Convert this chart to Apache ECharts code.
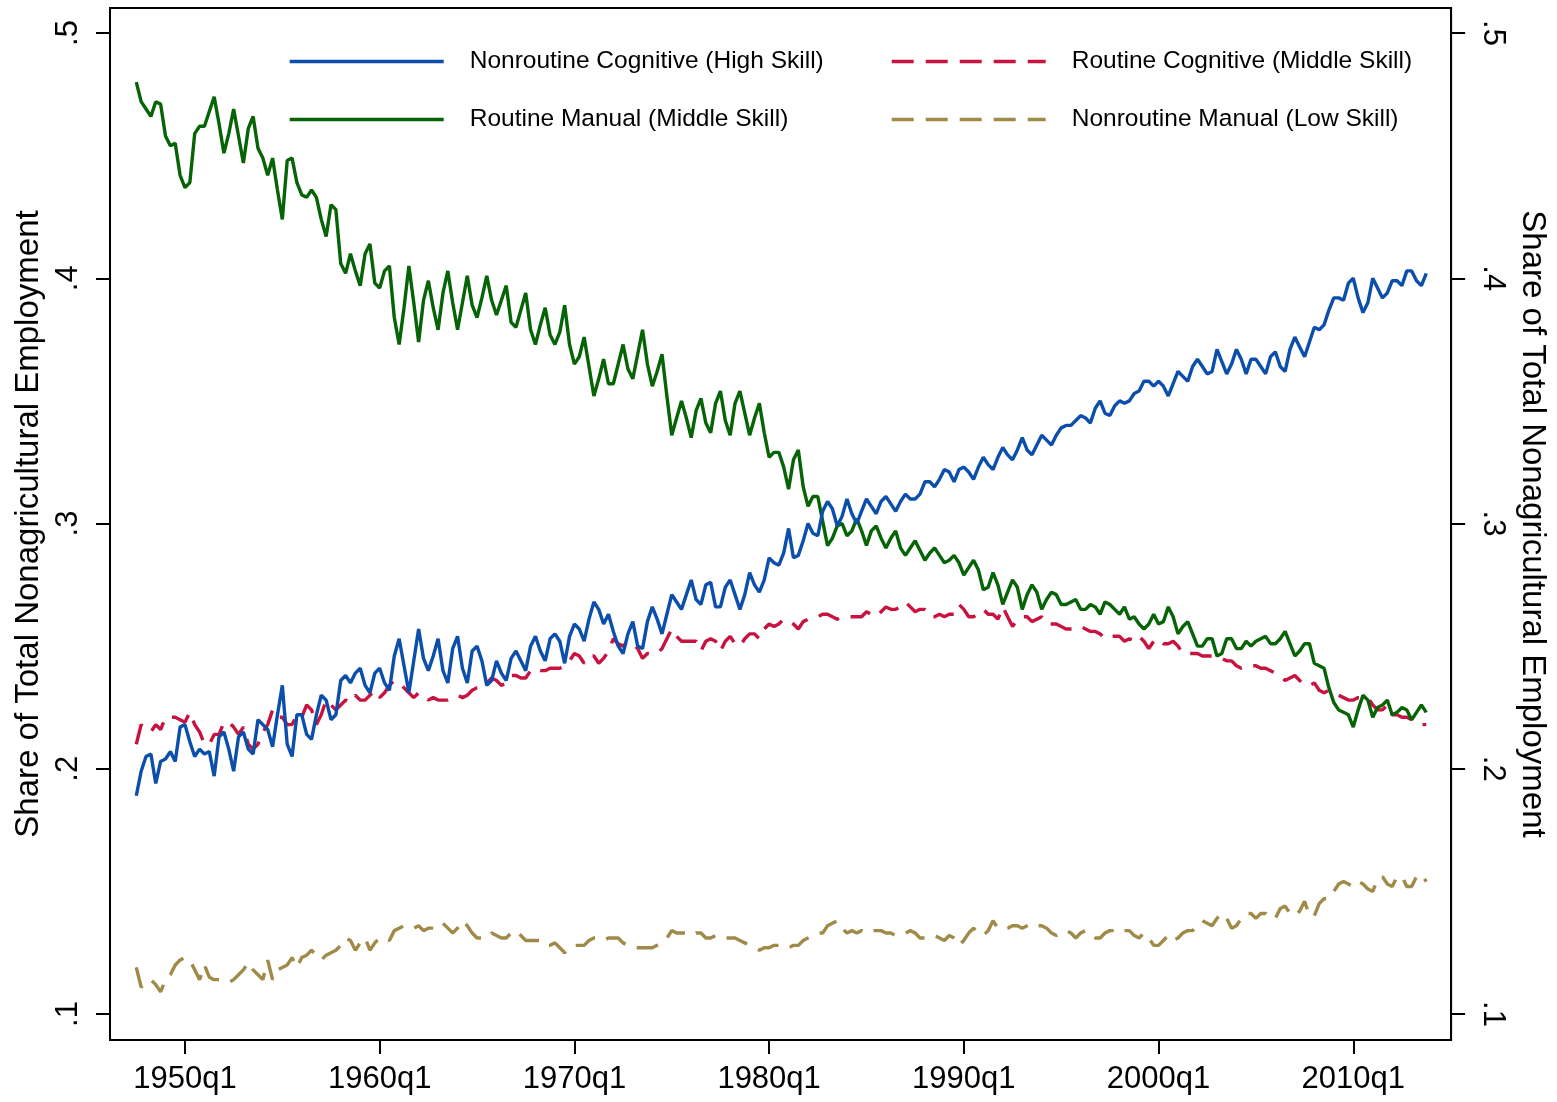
<!DOCTYPE html>
<html>
<head>
<meta charset="utf-8">
<title>Occupational employment shares</title>
<script src="https://cdn.jsdelivr.net/npm/echarts@6.0.0/dist/echarts.min.js"></script>
<style>
  html, body { margin: 0; padding: 0; background: #fff; }
  #chart { width: 1557px; height: 1102px; }
</style>
</head>
<body>
<div id="chart"></div>
<script>
// quarterly data, 1947q3 .. 2013q4 (one row per year)
const startQuarter = -50; // 1947q3, in quarters from 1960q1

const nonroutineCognitive = [
  0.189, 0.199,
  0.205, 0.206, 0.194, 0.203,
  0.204, 0.207, 0.203, 0.217,
  0.218, 0.211, 0.205, 0.208,
  0.206, 0.207, 0.197, 0.213,
  0.215, 0.208, 0.199, 0.213,
  0.215, 0.208, 0.206, 0.220,
  0.218, 0.216, 0.209, 0.222,
  0.234, 0.210, 0.205, 0.222,
  0.222, 0.214, 0.212, 0.222,
  0.230, 0.228, 0.220, 0.222,
  0.236, 0.238, 0.235, 0.239,
  0.241, 0.234, 0.231, 0.239,
  0.241, 0.235, 0.232, 0.246,
  0.253, 0.242, 0.231, 0.244,
  0.257, 0.245, 0.240, 0.246,
  0.253, 0.240, 0.235, 0.249,
  0.254, 0.241, 0.235, 0.248,
  0.250, 0.244, 0.234, 0.236,
  0.244, 0.239, 0.236, 0.245,
  0.248, 0.244, 0.240, 0.250,
  0.254, 0.248, 0.244, 0.253,
  0.255, 0.252, 0.243, 0.254,
  0.259, 0.257, 0.252, 0.261,
  0.268, 0.265, 0.259, 0.263,
  0.256, 0.250, 0.247, 0.255,
  0.260, 0.250, 0.249, 0.260,
  0.266, 0.261, 0.255, 0.263,
  0.271, 0.268, 0.265, 0.271,
  0.277, 0.269, 0.267, 0.275,
  0.276, 0.266, 0.266, 0.274,
  0.277, 0.271, 0.265, 0.271,
  0.280, 0.275, 0.272, 0.277,
  0.286, 0.284, 0.283, 0.288,
  0.298, 0.286, 0.287, 0.293,
  0.300, 0.296, 0.295, 0.305,
  0.309, 0.306, 0.299, 0.303,
  0.310, 0.304, 0.300, 0.305,
  0.310, 0.307, 0.304, 0.309,
  0.311, 0.308, 0.305, 0.309,
  0.312, 0.310, 0.310, 0.312,
  0.317, 0.317, 0.315, 0.318,
  0.322, 0.321, 0.317, 0.322,
  0.323, 0.321, 0.318, 0.323,
  0.327, 0.324, 0.322, 0.327,
  0.331, 0.328, 0.326, 0.330,
  0.335, 0.330, 0.328, 0.332,
  0.336, 0.334, 0.332, 0.336,
  0.339, 0.340, 0.340, 0.342,
  0.344, 0.343, 0.341, 0.347,
  0.350, 0.345, 0.344, 0.348,
  0.350, 0.349, 0.350, 0.353,
  0.354, 0.358, 0.358, 0.356,
  0.358, 0.356, 0.352, 0.357,
  0.362, 0.360, 0.358, 0.364,
  0.367, 0.364, 0.361, 0.362,
  0.371, 0.366, 0.361, 0.365,
  0.371, 0.367, 0.361, 0.367,
  0.367, 0.364, 0.361, 0.368,
  0.370, 0.364, 0.362, 0.371,
  0.376, 0.372, 0.368, 0.374,
  0.380, 0.379, 0.381, 0.387,
  0.392, 0.392, 0.391, 0.398,
  0.400, 0.392, 0.386, 0.390,
  0.400, 0.396, 0.392, 0.394,
  0.399, 0.399, 0.397, 0.403,
  0.403, 0.399, 0.397, 0.402
];

const routineCognitive = [
  0.210, 0.218,
  0.216, 0.215, 0.218, 0.216,
  0.221, 0.221, 0.221, 0.220,
  0.219, 0.223, 0.218, 0.215,
  0.210, 0.210, 0.214, 0.214,
  0.219, 0.219, 0.217, 0.214,
  0.217, 0.210, 0.208, 0.210,
  0.215, 0.218, 0.224, 0.221,
  0.221, 0.218, 0.218, 0.222,
  0.221, 0.226, 0.224, 0.218,
  0.222, 0.228, 0.226, 0.224,
  0.226, 0.228, 0.227, 0.230,
  0.228, 0.228, 0.230, 0.232,
  0.229, 0.231, 0.234, 0.236,
  0.235, 0.233, 0.231, 0.229,
  0.231, 0.230, 0.228, 0.229,
  0.228, 0.228, 0.228, 0.229,
  0.230, 0.229, 0.230, 0.232,
  0.233, 0.233, 0.235, 0.237,
  0.236, 0.234, 0.235, 0.238,
  0.238, 0.237, 0.237, 0.240,
  0.241, 0.240, 0.240, 0.241,
  0.241, 0.241, 0.242, 0.244,
  0.247, 0.246, 0.243, 0.246,
  0.246, 0.243, 0.245, 0.248,
  0.253, 0.251, 0.250, 0.252,
  0.251, 0.249, 0.245, 0.247,
  0.247, 0.247, 0.249, 0.253,
  0.257, 0.254, 0.252, 0.252,
  0.252, 0.252, 0.248, 0.252,
  0.253, 0.252, 0.248, 0.252,
  0.254, 0.251, 0.250, 0.253,
  0.255, 0.255, 0.253, 0.257,
  0.259, 0.258, 0.259, 0.261,
  0.260, 0.259, 0.257, 0.260,
  0.261, 0.261, 0.262, 0.263,
  0.263, 0.262, 0.261, 0.262,
  0.262, 0.262, 0.262, 0.262,
  0.264, 0.263, 0.262, 0.264,
  0.266, 0.265, 0.265, 0.266,
  0.268, 0.266, 0.264, 0.265,
  0.265, 0.262, 0.262, 0.263,
  0.262, 0.263, 0.263, 0.267,
  0.265, 0.262, 0.262, 0.263,
  0.265, 0.263, 0.263, 0.261,
  0.266, 0.262, 0.258, 0.261,
  0.262, 0.262, 0.260, 0.261,
  0.262, 0.259, 0.259, 0.259,
  0.258, 0.257, 0.257, 0.257,
  0.258, 0.257, 0.256, 0.256,
  0.255, 0.253, 0.254, 0.254,
  0.254, 0.252, 0.253, 0.252,
  0.254, 0.252, 0.249, 0.252,
  0.253, 0.251, 0.251, 0.252,
  0.250, 0.247, 0.247, 0.247,
  0.247, 0.246, 0.246, 0.246,
  0.246, 0.245, 0.244, 0.244,
  0.242, 0.241, 0.242, 0.242,
  0.242, 0.241, 0.241, 0.240,
  0.239, 0.238, 0.236, 0.237,
  0.238, 0.236, 0.234, 0.234,
  0.235, 0.232, 0.231, 0.232,
  0.231, 0.230, 0.229, 0.228,
  0.228, 0.229, 0.229, 0.229,
  0.226, 0.224, 0.224, 0.226,
  0.222, 0.222, 0.221, 0.221,
  0.220, 0.219, 0.218, 0.218
];

const routineManual = [
  0.480, 0.472,
  0.469, 0.466, 0.472, 0.471,
  0.458, 0.454, 0.455, 0.442,
  0.437, 0.439, 0.459, 0.462,
  0.462, 0.468, 0.474, 0.463,
  0.451, 0.459, 0.469, 0.458,
  0.447, 0.461, 0.466, 0.453,
  0.449, 0.442, 0.449, 0.436,
  0.424, 0.448, 0.449, 0.439,
  0.434, 0.433, 0.436, 0.433,
  0.424, 0.417, 0.430, 0.428,
  0.406, 0.402, 0.410, 0.403,
  0.397, 0.410, 0.414, 0.398,
  0.396, 0.403, 0.405, 0.384,
  0.373, 0.388, 0.405, 0.390,
  0.374, 0.391, 0.399, 0.388,
  0.379, 0.394, 0.403, 0.390,
  0.379, 0.390, 0.401, 0.389,
  0.384, 0.392, 0.401, 0.391,
  0.385, 0.391, 0.397, 0.382,
  0.380, 0.387, 0.394, 0.379,
  0.373, 0.381, 0.388, 0.377,
  0.373, 0.378, 0.389, 0.373,
  0.365, 0.368, 0.376, 0.364,
  0.352, 0.359, 0.367, 0.357,
  0.357, 0.365, 0.373, 0.363,
  0.359, 0.369, 0.379, 0.365,
  0.356, 0.362, 0.369, 0.352,
  0.336, 0.343, 0.350, 0.343,
  0.335, 0.346, 0.351, 0.341,
  0.337, 0.349, 0.354, 0.342,
  0.336, 0.349, 0.354, 0.345,
  0.336, 0.343, 0.349, 0.337,
  0.327, 0.329, 0.329, 0.323,
  0.314, 0.326, 0.330, 0.315,
  0.307, 0.311, 0.311, 0.301,
  0.291, 0.294, 0.299, 0.300,
  0.295, 0.297, 0.302, 0.297,
  0.291, 0.297, 0.299, 0.294,
  0.290, 0.294, 0.297, 0.290,
  0.287, 0.290, 0.293, 0.289,
  0.285, 0.288, 0.290, 0.287,
  0.284, 0.285, 0.287, 0.284,
  0.279, 0.282, 0.285, 0.281,
  0.273, 0.274, 0.280, 0.275,
  0.267, 0.272, 0.277, 0.274,
  0.265, 0.271, 0.275, 0.272,
  0.265, 0.269, 0.272, 0.271,
  0.267, 0.267, 0.268, 0.269,
  0.265, 0.265, 0.267, 0.266,
  0.263, 0.268, 0.267, 0.265,
  0.263, 0.266, 0.261, 0.262,
  0.259, 0.257, 0.259, 0.263,
  0.259, 0.260, 0.266, 0.262,
  0.255, 0.258, 0.260, 0.255,
  0.250, 0.250, 0.253, 0.253,
  0.246, 0.247, 0.253, 0.253,
  0.249, 0.249, 0.252, 0.250,
  0.252, 0.253, 0.254, 0.251,
  0.251, 0.253, 0.256, 0.251,
  0.246, 0.248, 0.251, 0.251,
  0.243, 0.242, 0.241, 0.233,
  0.227, 0.224, 0.223, 0.222,
  0.217, 0.224, 0.230, 0.228,
  0.221, 0.225, 0.226, 0.228,
  0.222, 0.223, 0.225, 0.224,
  0.220, 0.223, 0.226, 0.223
];

const nonroutineManual = [
  0.119, 0.111,
  0.112, 0.114, 0.112, 0.109,
  0.114, 0.116, 0.120, 0.122,
  0.123, 0.122, 0.118, 0.114,
  0.120, 0.115, 0.114, 0.114,
  0.113, 0.113, 0.114, 0.116,
  0.118, 0.121, 0.118, 0.116,
  0.114, 0.122, 0.114, 0.118,
  0.119, 0.120, 0.123, 0.119,
  0.123, 0.124, 0.126, 0.124,
  0.122, 0.124, 0.125, 0.126,
  0.128, 0.131, 0.130, 0.126,
  0.129, 0.131, 0.126, 0.129,
  0.131, 0.131, 0.130, 0.134,
  0.135, 0.136, 0.135, 0.135,
  0.136, 0.134, 0.135, 0.135,
  0.137, 0.137, 0.135, 0.133,
  0.135, 0.138, 0.136, 0.133,
  0.131, 0.131, 0.131, 0.133,
  0.132, 0.131, 0.131, 0.133,
  0.134, 0.132, 0.130, 0.130,
  0.130, 0.130, 0.128, 0.128,
  0.129, 0.127, 0.125, 0.127,
  0.128, 0.128, 0.128, 0.130,
  0.131, 0.131, 0.130, 0.131,
  0.131, 0.131, 0.129, 0.128,
  0.127, 0.127, 0.127, 0.127,
  0.127, 0.128, 0.129, 0.131,
  0.134, 0.133, 0.133, 0.133,
  0.132, 0.133, 0.133, 0.131,
  0.131, 0.132, 0.131, 0.131,
  0.131, 0.131, 0.130, 0.129,
  0.128, 0.127, 0.126, 0.127,
  0.127, 0.128, 0.128, 0.127,
  0.127, 0.128, 0.128, 0.130,
  0.131, 0.132, 0.133, 0.133,
  0.136, 0.137, 0.138, 0.135,
  0.133, 0.134, 0.133, 0.134,
  0.133, 0.134, 0.134, 0.134,
  0.133, 0.133, 0.132, 0.132,
  0.133, 0.134, 0.133, 0.131,
  0.131, 0.132, 0.132, 0.131,
  0.130, 0.132, 0.131, 0.128,
  0.130, 0.133, 0.135, 0.133,
  0.132, 0.134, 0.138, 0.135,
  0.135, 0.135, 0.136, 0.136,
  0.135, 0.136, 0.137, 0.136,
  0.136, 0.135, 0.133, 0.132,
  0.133, 0.134, 0.133, 0.131,
  0.133, 0.134, 0.132, 0.131,
  0.131, 0.133, 0.134, 0.134,
  0.133, 0.134, 0.134, 0.132,
  0.131, 0.133, 0.131, 0.128,
  0.128, 0.130, 0.132, 0.130,
  0.131, 0.133, 0.134, 0.134,
  0.136, 0.138, 0.137, 0.136,
  0.139, 0.141, 0.139, 0.135,
  0.136, 0.139, 0.141, 0.141,
  0.139, 0.141, 0.141, 0.139,
  0.139, 0.143, 0.144, 0.141,
  0.140, 0.142, 0.146, 0.140,
  0.140, 0.145, 0.147, 0.147,
  0.150, 0.153, 0.154, 0.153,
  0.152, 0.154, 0.153, 0.151,
  0.150, 0.155, 0.156, 0.153,
  0.152, 0.156, 0.156, 0.152,
  0.152, 0.156, 0.157, 0.154
];

const seriesNames = [
  'Nonroutine Cognitive (High Skill)',
  'Routine Cognitive (Middle Skill)',
  'Routine Manual (Middle Skill)',
  'Nonroutine Manual (Low Skill)'
];

const xTickValues = [-40, 0, 40, 80, 120, 160, 200];
const xTickLabels = ['1950q1', '1960q1', '1970q1', '1980q1', '1990q1', '2000q1', '2010q1'];
const yTickValues = [0.1, 0.2, 0.3, 0.4, 0.5];
const yTickLabels = ['.1', '.2', '.3', '.4', '.5'];
const yTitle = 'Share of Total Nonagricultural Employment';

const FONT = '"Liberation Sans", Arial, Helvetica, sans-serif';
const LINE_W = 3.4;

const toPoints = values => values.map((v, i) => [startQuarter + i, v]);

const makeLine = (name, values, color, dashed) => ({
  name: name,
  type: 'line',
  data: toPoints(values),
  symbol: 'none',
  lineStyle: {
    color: color,
    width: LINE_W,
    type: dashed ? [22, 12] : 'solid'
  },
  itemStyle: { color: color },
  emphasis: { disabled: true }
});

const yAxisBase = (position, rotate, nameRotate, nameGap) => ({
  type: 'value',
  position: position,
  min: 0.0894,
  max: 0.5102,
  name: yTitle,
  nameLocation: 'middle',
  nameRotate: nameRotate,
  nameGap: nameGap,
  nameTextStyle: { fontSize: 33, color: '#000', fontFamily: FONT },
  axisLine: { show: true, onZero: false, lineStyle: { color: '#000', width: 2 } },
  axisTick: {
    show: true,
    length: 14,
    customValues: yTickValues,
    lineStyle: { color: '#000', width: 2 }
  },
  axisLabel: {
    customValues: yTickValues,
    rotate: rotate,
    margin: 26,
    fontSize: 31,
    color: '#000',
    fontFamily: FONT,
    formatter: v => yTickLabels[yTickValues.indexOf(v)]
  },
  splitLine: { show: false }
});

// one legend per entry so each sits where the reference puts it
const legendItem = (name, left, top) => ({
  data: [name],
  left: left,
  top: top,
  padding: 0,
  itemWidth: 154,
  itemHeight: 14,
  selectedMode: false,
  itemStyle: { opacity: 0 },
  lineStyle: { width: LINE_W },
  textStyle: {
    fontSize: 24.5,
    color: '#000',
    fontFamily: FONT,
    padding: [0, 0, 0, 21]
  }
});

const chart = echarts.init(document.getElementById('chart'), null, { renderer: 'canvas' });

chart.setOption({
  animation: false,
  backgroundColor: '#fff',
  grid: {
    left: 110,
    right: 104,
    top: 8,
    bottom: 62,
    show: true,
    borderColor: '#000',
    borderWidth: 2,
    backgroundColor: '#fff'
  },
  legend: [
    legendItem(seriesNames[0], 288, 49),
    legendItem(seriesNames[1], 890, 49),
    legendItem(seriesNames[2], 288, 107),
    legendItem(seriesNames[3], 890, 107)
  ],
  xAxis: {
    type: 'value',
    min: -55.4,
    max: 220.1,
    axisLine: { show: true, onZero: false, lineStyle: { color: '#000', width: 2 } },
    axisTick: {
      show: true,
      length: 14,
      customValues: xTickValues,
      lineStyle: { color: '#000', width: 2 }
    },
    axisLabel: {
      customValues: xTickValues,
      margin: 24,
      fontSize: 31,
      color: '#000',
      fontFamily: FONT,
      formatter: v => xTickLabels[xTickValues.indexOf(v)]
    },
    splitLine: { show: false }
  },
  yAxis: [
    yAxisBase('left', 90, 90, 60),
    yAxisBase('right', -90, -90, 62)
  ],
  series: [
    makeLine(seriesNames[1], routineCognitive, '#c8123f', true),
    makeLine(seriesNames[3], nonroutineManual, '#a08a48', true),
    makeLine(seriesNames[2], routineManual, '#066306', false),
    makeLine(seriesNames[0], nonroutineCognitive, '#0b4eab', false)
  ]
});
</script>
</body>
</html>
